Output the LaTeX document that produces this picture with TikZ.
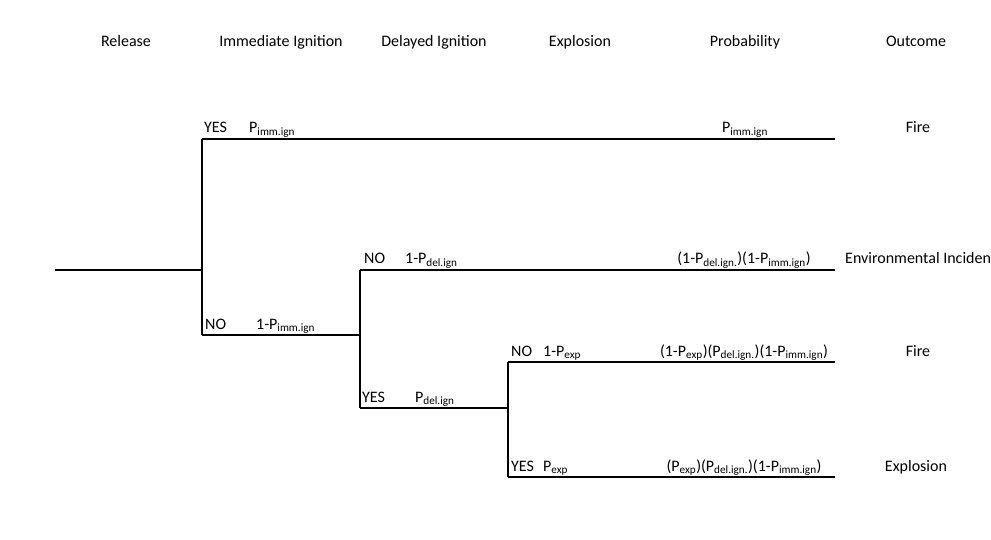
\documentclass[tikz,border=0pt]{standalone}
\usepackage{fontspec}
\setmainfont{Carlito}
\begin{document}
\begin{tikzpicture}[x=1pt,y=-1pt,
  branch/.style={line width=1.9pt},
  txt/.style={inner sep=0pt,font=\fontsize{16}{19}\selectfont},
  lbl/.style={txt,anchor=base west},
  head/.style={txt,anchor=base},
  prob/.style={txt,anchor=base},
  outc/.style={txt,anchor=base}]
\useasboundingbox (0,0) rectangle (991,540);
\fill[white] (0,0) rectangle (991,540);

% column headings
\node[head] (hRel) at (126,47) {Release};
\node[head] (hImm) at (281,47) {Immediate Ignition};
\node[head] (hDel) at (434,47) {Delayed Ignition};
\node[head] (hExp) at (580,47) {Explosion};
\node[head] (hPrb) at (745,47) {Probability};
\node[head] (hOut) at (916,47) {Outcome};

% branch points and leaf ends
\coordinate (start) at (55,270);
\coordinate (s1) at (202,270);
\coordinate (s1y) at (202,139);
\coordinate (s1n) at (202,335);
\coordinate (e1) at (835,139);
\coordinate (s2) at (360,335);
\coordinate (s2n) at (360,270);
\coordinate (s2y) at (360,408);
\coordinate (e2) at (835,270);
\coordinate (s3) at (508,408);
\coordinate (s3n) at (508,362);
\coordinate (s3y) at (508,477);
\coordinate (e3) at (835,362);
\coordinate (e4) at (835,477);

% tree
\draw[branch] (start) -- (s1);
\draw[branch] (s1y) -- (s1n);
\draw[branch] (s1y) -- (e1);
\draw[branch] (s1n) -- (s2);
\draw[branch] (s2n) -- (s2y);
\draw[branch] (s2n) -- (e2);
\draw[branch] (s2y) -- (s3);
\draw[branch] (s3n) -- (s3y);
\draw[branch] (s3n) -- (e3);
\draw[branch] (s3y) -- (e4);

% branch labels
\node[lbl] (y1) at (204,133) {YES};
\node[lbl] (p1) at (249,133) {P\textsubscript{imm.ign}};
\node[lbl] (n1) at (205,329) {NO};
\node[lbl] (p1n) at (256,329) {1-P\textsubscript{imm.ign}};
\node[lbl] (n2) at (364,264) {NO};
\node[lbl] (p2n) at (405,264) {1-P\textsubscript{del.ign}};
\node[lbl] (y2) at (362,402) {YES};
\node[lbl] (p2y) at (415,402) {P\textsubscript{del.ign}};
\node[lbl] (n3) at (511,356) {NO};
\node[lbl] (p3n) at (543,356) {1-P\textsubscript{exp}};
\node[lbl] (y3) at (511,471) {YES};
\node[lbl] (p3y) at (543,471) {P\textsubscript{exp}};

% probabilities
\node[prob] (q1) at (745,133) {P\textsubscript{imm.ign}};
\node[prob] (q2) at (744,264) {(1-P\textsubscript{del.ign.})(1-P\textsubscript{imm.ign})};
\node[prob] (q3) at (744,356) {(1-P\textsubscript{exp})(P\textsubscript{del.ign.})(1-P\textsubscript{imm.ign})};
\node[prob] (q4) at (744,471) {(P\textsubscript{exp})(P\textsubscript{del.ign.})(1-P\textsubscript{imm.ign})};

% outcomes
\node[outc] (o1) at (918,133) {Fire};
\node[lbl] (o2) at (845,264) {Environmental Incident};
\node[outc] (o3) at (918,356) {Fire};
\node[outc] (o4) at (916,471) {Explosion};
\end{tikzpicture}
\end{document}
